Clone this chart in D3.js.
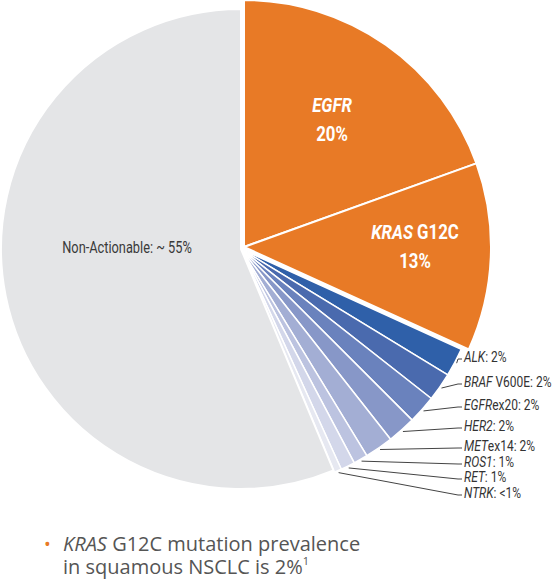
<!DOCTYPE html>
<html><head><meta charset="utf-8">
<script src="https://cdn.jsdelivr.net/npm/d3@7"></script>
<style>
body{margin:0;background:#fff}
svg text{font-family:Roboto,"DejaVu Sans",sans-serif}
</style></head>
<body><div id="chart"></div>
<script>
// slice values (percent of patients)
var names = ["EGFR", "KRAS G12C", "ALK", "BRAF V600E", "EGFRex20", "HER2", "METex14", "ROS1", "RET", "NTRK", "Non-Actionable"];
var values = [19.5, 12.3, 1.9, 1.9, 1.9, 1.9, 1.9, 0.95, 0.95, 0.5, 56.3];
var colors = ["#e87a26", "#e87a26", "#2f60a9", "#4a6aae", "#6a82bd", "#8797c8", "#a3aed4", "#bcc3e0", "#d3d7ea", "#e6e8f1", "#e4e5e7"];
// small slice labels: italic part, plain part, text baseline y
var labItalic = ["ALK", "BRAF", "EGFR", "HER2", "MET", "ROS1", "RET", "NTRK"];
var labPlain = [": 2%", " V600E: 2%", "ex20: 2%", ": 2%", "ex14: 2%", ": 1%", ": 1%", ": <1%"];
var labY = [362, 387, 410, 431, 451, 467, 482, 498];

var width = 554, height = 580;
var cx = 241, cy = 249, r = 240;
var narrow = 0.8; // condensed look

var svg = d3.select("#chart").append("svg")
  .attr("width", width).attr("height", height);

var pie = d3.pie().sort(null).value(function(d){ return d; });
var arcs = pie(values);

var arcBig = d3.arc().innerRadius(0).outerRadius(r + 7);
var arcMid = d3.arc().innerRadius(0).outerRadius(r + 2);
var arcBase = d3.arc().innerRadius(0).outerRadius(r);

var g = svg.append("g");
arcs.forEach(function(a, i){
  var orange = i < 2, grey = i == 10;
  var dx = orange ? 3 : 0, dy = orange ? -2 : 0;
  g.append("path")
    .attr("transform", "translate(" + (cx + dx) + "," + (cy + dy) + ")")
    .attr("d", orange ? arcBig(a) : (grey ? arcBase(a) : arcMid(a)))
    .attr("fill", colors[i])
    .attr("stroke", "#fff")
    .attr("stroke-width", orange || grey ? 2 : 1.5)
    .attr("stroke-linejoin", "round");
});

function narrowText(x, y){
  return svg.append("g").attr("transform", "translate(" + x + "," + y + ") scale(" + narrow + ",1)")
    .append("text");
}

// labels inside big slices
function bigLabel(x, y, parts, pct){
  var t = narrowText(x, y).attr("text-anchor", "middle")
    .attr("fill", "#fff").attr("font-size", 21).attr("font-weight", "bold");
  parts.forEach(function(p){ t.append("tspan").attr("font-style", p[1] ? "italic" : "normal").text(p[0]); });
  narrowText(x, y + 29).attr("text-anchor", "middle")
    .attr("fill", "#fff").attr("font-size", 21).attr("font-weight", "bold").text(pct);
}
bigLabel(332, 112, [["EGFR", true]], "20%");
bigLabel(415, 239, [["KRAS", true], [" G12C", false]], "13%");

narrowText(127, 253).attr("text-anchor", "middle")
  .attr("fill", "#3a3a3a").attr("font-size", 16).text("Non-Actionable: ~ 55%");

// leader lines + small labels
var lx = 464;
for (var i = 0; i < 8; i++) {
  var a = arcs[i + 2];
  var mid = (a.startAngle + a.endAngle) / 2;
  var pr = r + 4;
  var px = cx + pr * Math.sin(mid), py = cy - pr * Math.cos(mid);
  svg.append("polyline")
    .attr("points", px + "," + py + " " + (lx - 6) + "," + (labY[i] - 3) + " " + (lx - 2) + "," + (labY[i] - 3))
    .attr("fill", "none").attr("stroke", "#444").attr("stroke-width", 1);
  var t = narrowText(lx, labY[i]).attr("fill", "#333").attr("font-size", 15);
  t.append("tspan").attr("font-style", "italic").text(labItalic[i]);
  t.append("tspan").text(labPlain[i]);
}

// note below chart
svg.append("text").attr("x", 44).attr("y", 551).attr("fill", "#e87a26").attr("font-size", 18)
  .style("font-family", "'Open Sans',sans-serif").text("•");
var n1 = svg.append("text").attr("x", 63).attr("y", 551).attr("fill", "#555").attr("font-size", 20)
  .style("font-family", "'Open Sans',sans-serif");
n1.append("tspan").attr("font-style", "italic").text("KRAS");
n1.append("tspan").text(" G12C mutation prevalence");
var n2 = svg.append("text").attr("x", 63).attr("y", 574).attr("fill", "#555").attr("font-size", 20)
  .style("font-family", "'Open Sans',sans-serif");
n2.append("tspan").text("in squamous NSCLC is 2%");
n2.append("tspan").attr("font-size", 11).attr("dy", -9).text("1");
</script></body></html>
